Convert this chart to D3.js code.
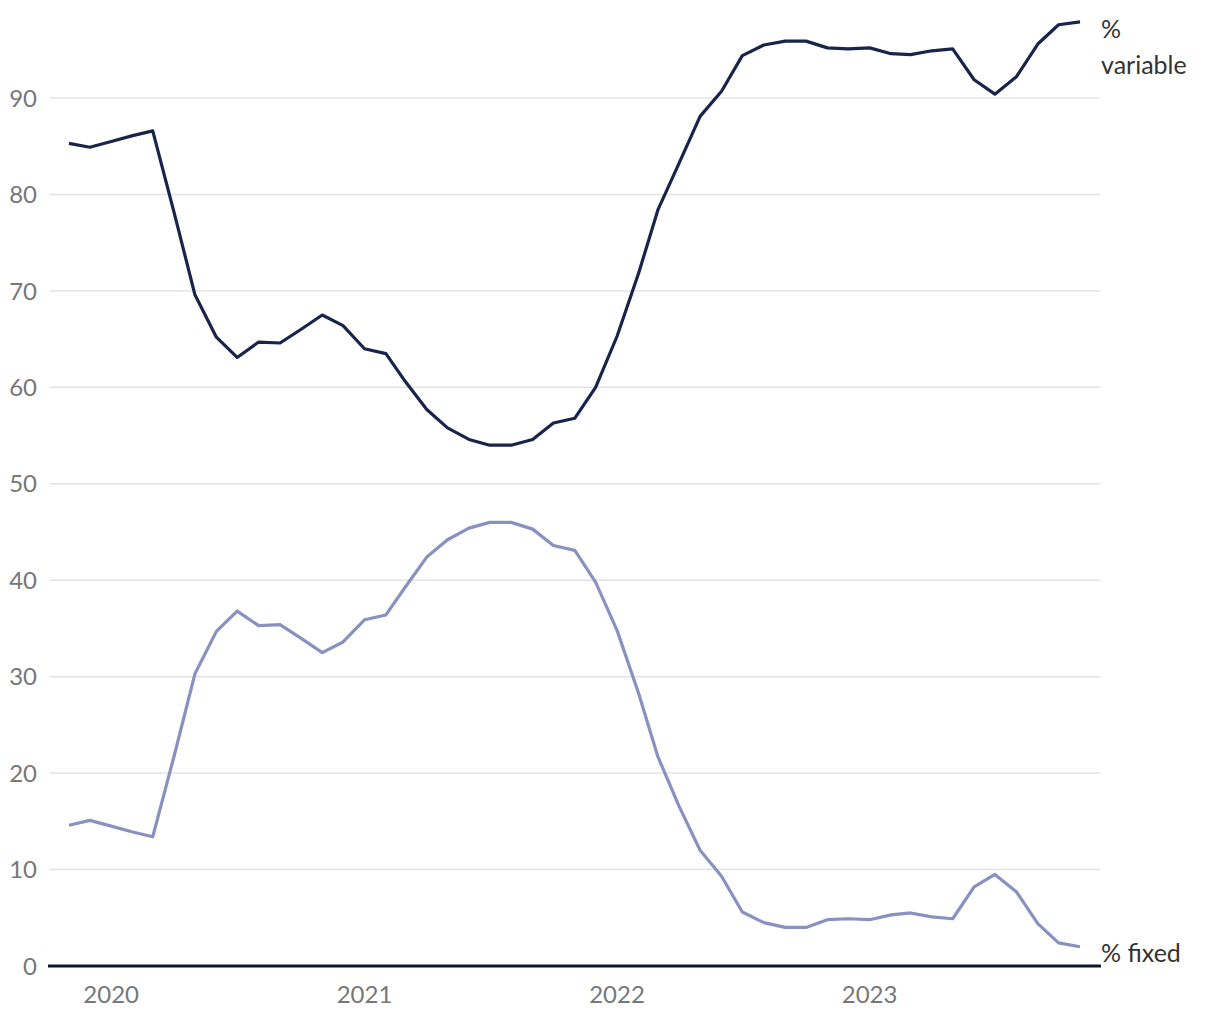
<!DOCTYPE html>
<html><head><meta charset="utf-8">
<script src="https://cdn.jsdelivr.net/npm/d3@7"></script>
<style>body{margin:0;background:#fff}svg{display:block}</style>
</head><body>
<script>
const startMonth = "2019-11";
const variablePct = [85.3,84.9,85.5,86.1,86.6,78.1,69.6,65.2,63.1,64.7,64.6,66.0,67.5,66.4,64.0,63.5,
  60.6,57.7,55.8,54.6,54.0,54.0,54.6,56.3,56.8,60.0,65.3,71.8,78.4,83.3,88.1,90.7,94.4,95.5,95.9,95.9,
  95.2,95.1,95.2,94.6,94.5,94.9,95.1,91.9,90.4,92.2,95.6,97.6,97.9];
const fixedPct = [14.6,15.1,14.5,13.9,13.4,21.8,30.3,34.7,36.8,35.3,35.4,34.0,32.5,33.6,35.9,36.4,
  39.3,42.4,44.2,45.4,46.0,46.0,45.3,43.6,43.1,39.8,34.8,28.3,21.7,16.5,12.0,9.3,5.6,4.5,4.0,4.0,
  4.8,4.9,4.8,5.3,5.5,5.1,4.9,8.2,9.5,7.7,4.4,2.4,2.0];
const yTicks = [0,10,20,30,40,50,60,70,80,90];
const yearTicks = [2020,2021,2022,2023];
const labelVariable = ["%","variable"];
const labelFixed = "% fixed";

const W=1220,H=1020;
const svg=d3.select("body").append("svg").attr("width",W).attr("height",H)
  .style("font-family","Lato, 'Noto Sans', sans-serif");
const parse=d3.timeParse("%Y-%m");
const t0=parse(startMonth);
const dates=variablePct.map((_,i)=>d3.timeMonth.offset(t0,i));
const x=d3.scaleTime().domain([dates[0],dates[dates.length-1]]).range([69,1080]);
const y=d3.scaleLinear().domain([0,100]).range([966,1.6]);

// gridlines
svg.append("g").selectAll("line").data(yTicks.filter(d=>d>0)).join("line")
  .attr("x1",50).attr("x2",1100).attr("y1",d=>y(d)).attr("y2",d=>y(d))
  .attr("stroke","#e3e3e3").attr("stroke-width",1.5);

// y labels
svg.append("g").selectAll("text").data(yTicks).join("text")
  .attr("x",37).attr("y",d=>y(d)).attr("dy","0.36em").attr("text-anchor","end")
  .attr("font-size",24).attr("fill","#777").text(d=>d);

// x labels
svg.append("g").selectAll("text").data(yearTicks).join("text")
  .attr("x",d=>x(new Date(d,0,1))).attr("y",1003).attr("text-anchor","middle")
  .attr("font-size",24).attr("fill","#777").text(d=>d);

const line=d3.line().x((d,i)=>x(dates[i])).y(d=>y(d));
svg.append("path").datum(fixedPct).attr("d",line).attr("fill","none")
  .attr("stroke","#8891bf").attr("stroke-width",3.2).attr("stroke-linejoin","round");
svg.append("path").datum(variablePct).attr("d",line).attr("fill","none")
  .attr("stroke","#18244a").attr("stroke-width",3.2).attr("stroke-linejoin","round");

// baseline
svg.append("line").attr("x1",48).attr("x2",1101).attr("y1",y(0)).attr("y2",y(0))
  .attr("stroke","#0c1633").attr("stroke-width",3);

// series labels
svg.append("g").selectAll("text").data(labelVariable).join("text")
  .attr("x",1101).attr("y",(d,i)=>38+i*36).attr("font-size",25).attr("fill","#333").text(d=>d);
svg.append("text").attr("x",1101).attr("y",962).attr("font-size",25).attr("fill","#333").text(labelFixed);
</script>
</body></html>
